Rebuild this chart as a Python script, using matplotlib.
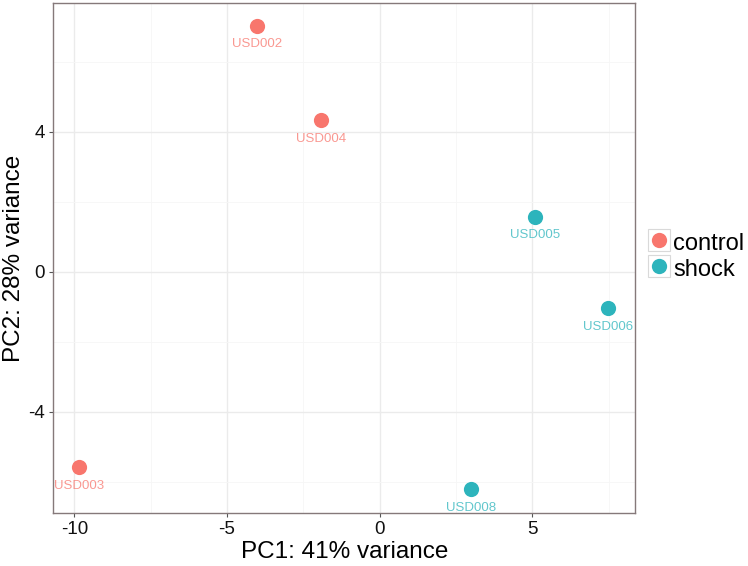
import matplotlib.pyplot as plt
from matplotlib.lines import Line2D
from matplotlib.legend_handler import HandlerTuple
from matplotlib.ticker import MultipleLocator

plt.rcParams['font.family'] = ['Liberation Sans', 'DejaVu Sans']
plt.rcParams['axes.unicode_minus'] = False

samples = ['USD002', 'USD004', 'USD003', 'USD005', 'USD006', 'USD008']
pc1 = [-4.01, -1.93, -9.85, 5.08, 7.48, 3.00]
pc2 = [7.03, 4.33, -5.59, 1.57, -1.05, -6.22]
groups = ['control', 'control', 'control', 'shock', 'shock', 'shock']
group_names = ['control', 'shock']
colors = {'control': '#F8766D', 'shock': '#2DB4BC'}

fig = plt.figure(figsize=(7.48, 5.66), dpi=100)
ax = fig.add_axes([0.0713, 0.0942, 0.778, 0.9])

for g in group_names:
    xs = [x for x, gg in zip(pc1, groups) if gg == g]
    ys = [y for y, gg in zip(pc2, groups) if gg == g]
    ax.scatter(xs, ys, s=120, color=colors[g], zorder=3, linewidths=0)

for name, x, y, g in zip(samples, pc1, pc2, groups):
    ax.annotate(name, (x, y), xytext=(0, -13.5), textcoords='offset points',
                ha='center', va='center', fontsize=9.5, color=colors[g],
                alpha=0.75, zorder=4)

ax.set_xlim(-10.69, 8.37)
ax.set_ylim(-6.89, 7.67)
ax.xaxis.set_major_locator(MultipleLocator(5))
ax.xaxis.set_minor_locator(MultipleLocator(2.5))
ax.yaxis.set_major_locator(MultipleLocator(4))
ax.yaxis.set_minor_locator(MultipleLocator(2))
ax.grid(which='major', color='#EBEBEB', linewidth=1.0, zorder=0)
ax.grid(which='minor', color='#F6F6F6', linewidth=0.6, zorder=0)
ax.set_axisbelow(True)
for sp in ax.spines.values():
    sp.set_color('#85797a')
    sp.set_linewidth(1.0)
ax.tick_params(which='major', length=3, color='#555555', labelsize=13.5,
               labelcolor='#111111', pad=3)
ax.tick_params(which='minor', length=0)
ax.set_xlabel('PC1: 41% variance', fontsize=17.5, labelpad=2)
ax.set_ylabel('PC2: 28% variance', fontsize=17.5, labelpad=2)

# legend keys: grey box with a filled circle, like ggplot
handles = []
for g in group_names:
    box = Line2D([], [], marker='s', linestyle='none', markersize=15.5,
                 markerfacecolor='white', markeredgecolor='#D9D9D9',
                 markeredgewidth=0.8)
    dot = Line2D([], [], marker='o', linestyle='none', markersize=11,
                 markerfacecolor=colors[g], markeredgewidth=0)
    handles.append((box, dot))

ax.legend(handles, group_names, handler_map={tuple: HandlerTuple(ndivide=1)},
          loc='center left', bbox_to_anchor=(1.01, 0.505), frameon=False,
          fontsize=17, handletextpad=0.15, borderaxespad=0.1, borderpad=0.2,
          labelspacing=0.0, handlelength=0.9, handleheight=1.25)

plt.savefig('out.png', dpi=100)
